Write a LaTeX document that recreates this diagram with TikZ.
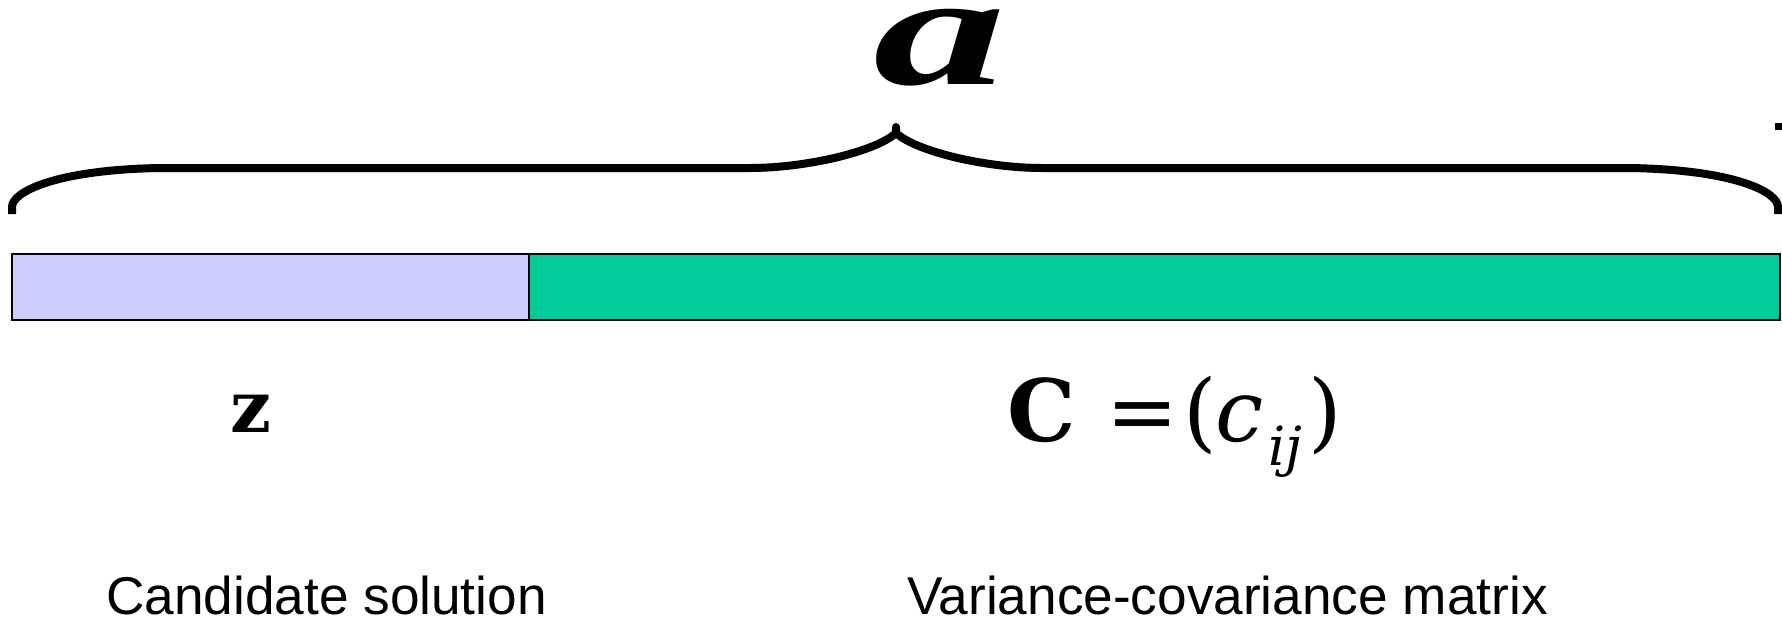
\documentclass[tikz,border=0pt]{standalone}
\usepackage{fontspec}
\setmainfont{Liberation Sans}
\newfontfamily\dvs{DejaVu Serif}
\newfontfamily\lser{Liberation Serif}
\definecolor{lav}{HTML}{CCCCFF}
\definecolor{grn}{HTML}{00CC99}
\tikzset{
  bracestyle/.style={line width=8pt, line cap=butt, line join=round},
  cell/.style={draw=black, line width=1.5pt},
  lbl/.style={inner sep=0pt, anchor=base west, font=\fontsize{53.2}{60}\selectfont},
  sym/.style={inner sep=0pt, anchor=base, font=\dvs\fontsize{86}{90}\selectfont},
}
\begin{document}
\begin{tikzpicture}[x=1pt,y=-1pt]
\useasboundingbox (0,0) rectangle (1782,619);
% brace
\coordinate (bl) at (12,214);
\coordinate (br) at (1778,214);
\draw[bracestyle] (bl) -- (12,207) .. controls (12,192) and (55,170) .. (159,168)
  -- (750,168) .. controls (805,168) and (875,152) .. (896,133) -- (896,127)
  -- (896,133) .. controls (917,152) and (987,168) .. (1042,168)
  -- (1631,168) .. controls (1735,170) and (1778,192) .. (1778,207) -- (br);
\fill (1775,123) rectangle (1782,130);
% a label
\node[sym, font=\lser\bfseries\itshape\fontsize{160}{170}\selectfont] (alab) at (940,84) {\scalebox{1.66}[1]{a}};
% boxes
\node[cell, fill=lav, minimum width=517pt, minimum height=66pt, inner sep=0pt, anchor=north west] (zbox) at (11,253) {};
\node[cell, fill=grn, minimum width=1251pt, minimum height=66pt, inner sep=0pt, anchor=north west] (cbox) at (528,253) {};
% z
\node[sym, font=\dvs\bfseries\fontsize{72}{80}\selectfont] (zlab) at (250.5,432) {z};
% formula
\node[sym, font=\dvs\bfseries\fontsize{86}{90}\selectfont] (fC) at (1041.5,441) {C};
\node[sym] (feq) at (1143,441) {=};
\node[sym] (flp) at (1200,441) {(};
\node[sym, font=\dvs\itshape\fontsize{86}{90}\selectfont] (fc) at (1240,441) {c};
\node[sym, font=\dvs\itshape\fontsize{54}{58}\selectfont] (fij) at (1285,465) {ij};
\node[sym] (frp) at (1325,441) {)};
% captions
\node[lbl] (cand) at (106,614) {Candidate solution};
\node[lbl] (varc) at (907,614) {Variance-covariance matrix};
\end{tikzpicture}
\end{document}
